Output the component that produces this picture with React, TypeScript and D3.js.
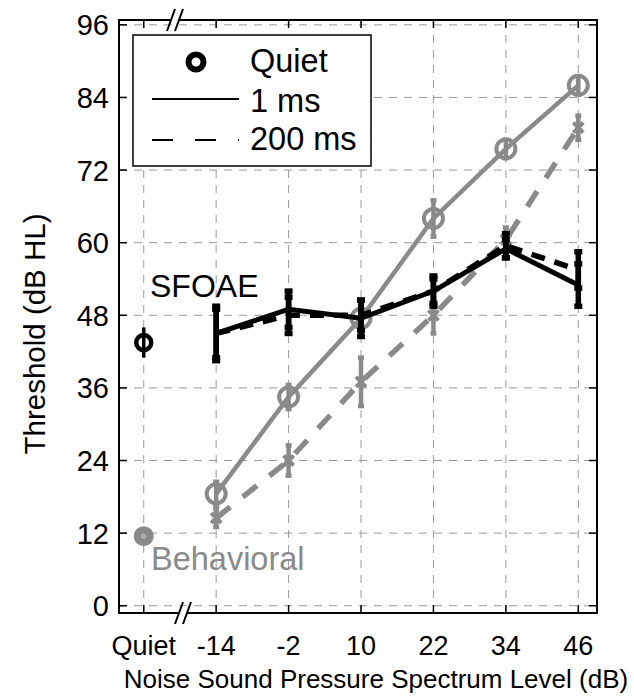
import React, { useEffect, useRef } from "react";
import * as d3 from "d3";

// noise levels (dB) and the "Quiet" position left of the axis break
const levels = [-14, -2, 10, 22, 34, 46];
const quietPos = -26;
const xTickLabels = ["Quiet", "-14", "-2", "10", "22", "34", "46"];
const yTicks = [0, 12, 24, 36, 48, 60, 72, 84, 96];

// behavioral thresholds
const behQuiet = 11.5;
const beh1 = [18.5, 34.5, 47.5, 64, 75.5, 86];
const beh1Err = [2, 2, 2, 3, 1.5, 1.5];
const beh200 = [14.5, 24, 37, 48, 60.5, 79];
const beh200Err = [1.5, 2.5, 4, 3, 2, 2];

// SFOAE thresholds
const sfoaeQuiet = 43.5;
const sfoaeQuietErr = 2.5;
const sfoae1 = [45, 49, 47.5, 52, 59, 53];
const sfoae1Err = [4.5, 3, 3, 2.5, 1.5, 3.5];
const sfoae200 = [45, 48, 48, 52, 59.5, 55.5];
const sfoae200Err = [4, 3, 2.5, 2, 2, 3];

const W = 634, H = 696;
const left = 119, right = 597, top = 20, bottom = 613;
const GRAY = "#8a8a8a";
const FONT = "Liberation Sans, Arial, sans-serif";

export default function App() {
  const ref = useRef<SVGSVGElement>(null);

  useEffect(() => {
    const svg = d3.select(ref.current);
    svg.selectAll("*").remove();

    const x = d3.scaleLinear().domain([-30.1, 49.1]).range([left, right]);
    const y = d3.scaleLinear().domain([-1.2, 96.8]).range([bottom, top]);
    const xTicks = [quietPos, ...levels];

    // grid
    const grid = svg.append("g");
    grid.selectAll(".gx").data(xTicks).join("line")
      .attr("x1", d => x(d)).attr("x2", d => x(d))
      .attr("y1", top).attr("y2", bottom)
      .attr("stroke", "#999").attr("stroke-width", 1).attr("stroke-dasharray", "8,7");
    grid.selectAll(".gy").data(yTicks).join("line")
      .attr("x1", left).attr("x2", right)
      .attr("y1", d => y(d)).attr("y2", d => y(d))
      .attr("stroke", "#999").attr("stroke-width", 1).attr("stroke-dasharray", "8,7");

    // axes (ticks inward, box)
    const tl = 8;
    const ax = svg.append("g").attr("stroke", "#000").attr("stroke-width", 1.5);
    ax.append("rect").attr("x", left).attr("y", top).attr("width", right - left).attr("height", bottom - top)
      .attr("fill", "none").attr("stroke-width", 2);
    yTicks.forEach(t => {
      ax.append("line").attr("x1", left).attr("x2", left + tl).attr("y1", y(t)).attr("y2", y(t));
      ax.append("line").attr("x1", right).attr("x2", right - tl).attr("y1", y(t)).attr("y2", y(t));
    });
    xTicks.forEach(t => {
      ax.append("line").attr("x1", x(t)).attr("x2", x(t)).attr("y1", bottom).attr("y2", bottom - tl);
      ax.append("line").attr("x1", x(t)).attr("x2", x(t)).attr("y1", top).attr("y2", top + tl);
    });

    // axis break marks
    [[top, 176], [bottom, 184]].forEach(([yy, xx]) => {
      svg.append("rect").attr("x", xx - 6).attr("y", yy - 2).attr("width", 10).attr("height", 4).attr("fill", "#fff");
      [-4, 4].forEach(o => {
        svg.append("line")
          .attr("x1", xx + o - 5).attr("y1", yy + 11)
          .attr("x2", xx + o + 3).attr("y2", yy - 11)
          .attr("stroke", "#000").attr("stroke-width", 2);
      });
    });

    // tick labels
    svg.selectAll(".yl").data(yTicks).join("text")
      .attr("x", left - 10).attr("y", d => y(d) + 10.5)
      .attr("text-anchor", "end").attr("font-family", FONT).attr("font-size", 29)
      .text(d => d);
    svg.selectAll(".xl").data(xTicks).join("text")
      .attr("x", d => x(d)).attr("y", 655)
      .attr("text-anchor", "middle").attr("font-family", FONT).attr("font-size", 27)
      .text((d, i) => xTickLabels[i]);

    svg.append("text").attr("x", 376).attr("y", 688).attr("text-anchor", "middle")
      .attr("font-family", FONT).attr("font-size", 26)
      .text("Noise Sound Pressure Spectrum Level (dB)");
    svg.append("text").attr("transform", `translate(45,334) rotate(-90)`)
      .attr("text-anchor", "middle").attr("font-family", FONT).attr("font-size", 29.5)
      .text("Threshold (dB HL)");

    const line = d3.line<number>().x((d, i) => x(levels[i])).y(d => y(d));

    const errBars = (vals: number[], errs: number[], color: string, w: number, cap: number) => {
      const g = svg.append("g").attr("stroke", color).attr("stroke-width", w);
      vals.forEach((v, i) => {
        const xx = x(levels[i]);
        g.append("line").attr("x1", xx).attr("x2", xx).attr("y1", y(v - errs[i])).attr("y2", y(v + errs[i]));
        [v - errs[i], v + errs[i]].forEach(e => {
          g.append("line").attr("x1", xx - cap).attr("x2", xx + cap).attr("y1", y(e)).attr("y2", y(e));
        });
      });
    };

    // behavioral 200 ms
    errBars(beh200, beh200Err, GRAY, 4.5, 3);
    svg.append("path").datum(beh200).attr("d", line).attr("fill", "none")
      .attr("stroke", GRAY).attr("stroke-width", 5.5).attr("stroke-dasharray", "18,16");
    beh200.forEach((v, i) => {
      const xx = x(levels[i]), yy = y(v), s = 5;
      svg.append("path").attr("d", `M${xx - s},${yy - s}L${xx + s},${yy + s}M${xx - s},${yy + s}L${xx + s},${yy - s}`)
        .attr("stroke", GRAY).attr("stroke-width", 4);
    });

    // behavioral 1 ms
    errBars(beh1, beh1Err, GRAY, 4.5, 3);
    svg.append("path").datum(beh1).attr("d", line).attr("fill", "none")
      .attr("stroke", GRAY).attr("stroke-width", 4.5);
    svg.selectAll(".b1").data(beh1).join("circle")
      .attr("cx", (d, i) => x(levels[i])).attr("cy", d => y(d)).attr("r", 9.5)
      .attr("fill", "none").attr("stroke", GRAY).attr("stroke-width", 4);
    svg.append("circle").attr("cx", x(quietPos)).attr("cy", y(behQuiet)).attr("r", 8.5)
      .attr("fill", GRAY).attr("stroke", GRAY).attr("stroke-width", 3);
    svg.append("circle").attr("cx", x(quietPos)).attr("cy", y(behQuiet)).attr("r", 2.5).attr("fill", "#b0b0b0");

    // SFOAE
    errBars(sfoae200, sfoae200Err, "#000", 5.5, 4);
    svg.append("path").datum(sfoae200).attr("d", line).attr("fill", "none")
      .attr("stroke", "#000").attr("stroke-width", 5.5).attr("stroke-dasharray", "14,10");
    errBars(sfoae1, sfoae1Err, "#000", 5.5, 4);
    svg.append("path").datum(sfoae1).attr("d", line).attr("fill", "none")
      .attr("stroke", "#000").attr("stroke-width", 5);

    const qx = x(quietPos);
    svg.append("line").attr("x1", qx).attr("x2", qx)
      .attr("y1", y(sfoaeQuiet - sfoaeQuietErr)).attr("y2", y(sfoaeQuiet + sfoaeQuietErr))
      .attr("stroke", "#000").attr("stroke-width", 3.5);
    svg.append("circle").attr("cx", qx).attr("cy", y(sfoaeQuiet)).attr("r", 7.5)
      .attr("fill", "none").attr("stroke", "#000").attr("stroke-width", 4.5);

    // in-plot labels
    svg.append("text").attr("x", 150).attr("y", 297).attr("font-family", FONT).attr("font-size", 32)
      .text("SFOAE");
    svg.append("text").attr("x", 151).attr("y", 570).attr("font-family", FONT).attr("font-size", 32.5)
      .attr("fill", GRAY).text("Behavioral");

    // legend
    const lg = svg.append("g");
    lg.append("rect").attr("x", 133).attr("y", 35).attr("width", 238).attr("height", 131)
      .attr("fill", "#fff").attr("stroke", "#000").attr("stroke-width", 1.5);
    lg.append("circle").attr("cx", 196).attr("cy", 62).attr("r", 7.5)
      .attr("fill", "none").attr("stroke", "#000").attr("stroke-width", 6);
    lg.append("line").attr("x1", 152).attr("x2", 239).attr("y1", 99).attr("y2", 99)
      .attr("stroke", "#000").attr("stroke-width", 2);
    lg.append("line").attr("x1", 152).attr("x2", 239).attr("y1", 140).attr("y2", 140)
      .attr("stroke", "#000").attr("stroke-width", 2).attr("stroke-dasharray", "21,22");
    [["Quiet", 72], ["1 ms", 112], ["200 ms", 150]].forEach(([t, yy]) => {
      lg.append("text").attr("x", 250).attr("y", yy as number).attr("font-family", FONT)
        .attr("font-size", 32.5).text(t as string);
    });
  }, []);

  return (
    <svg ref={ref} width={W} height={H} style={{ position: "absolute", left: 0, top: 0, background: "#fff" }} />
  );
}
